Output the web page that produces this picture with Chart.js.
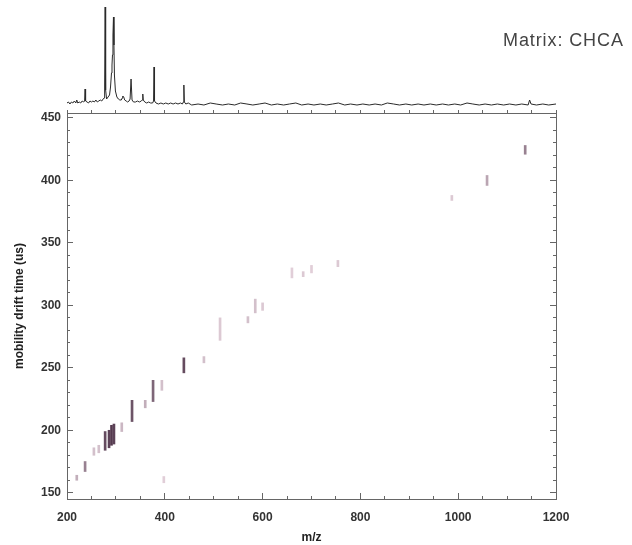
<!DOCTYPE html>
<html>
<head>
<meta charset="utf-8">
<script src="https://cdn.jsdelivr.net/npm/chart.js@4.4.1/dist/chart.umd.min.js"></script>
<style>
html, body { margin: 0; padding: 0; background: #fff; }
#wrap { position: relative; width: 632px; height: 545px; }
#main, #spec { position: absolute; left: 0; top: 0; }
#matrix {
    position: absolute; left: 503px; top: 31px;
    font: 18px "Liberation Sans", Arial, sans-serif;
    color: #444; letter-spacing: 0.9px; white-space: nowrap; line-height: 18px;
}
</style>
</head>
<body>
<div id="wrap">
    <canvas id="main" width="632" height="545"></canvas>
    <canvas id="spec" width="632" height="113"></canvas>
    <div id="matrix">Matrix: CHCA</div>
</div>
<script>
// drift time streaks: m/z, drift time range (us), relative intensity
let streakMz  = [220, 237, 255, 265, 278, 286, 291, 296, 312, 333, 360, 376, 394, 398, 439, 480, 513, 570, 585, 600, 660, 683, 700, 754, 987, 1059, 1137];
let streakLo  = [160, 167, 180, 182, 184, 186, 188, 189, 199, 207, 218, 223, 232, 158, 246, 254, 272, 286, 294, 296, 322, 323, 326, 331, 384, 396, 421];
let streakHi  = [164, 175, 186, 188, 199, 200, 204, 205, 206, 224, 224, 240, 240, 163, 258, 259, 290, 291, 305, 302, 330, 327, 332, 336, 388, 404, 428];
let streakInt = [0.3, 0.55, 0.2, 0.2, 0.85, 0.9, 0.95, 0.9, 0.25, 0.8, 0.3, 0.7, 0.2, 0.12, 0.85, 0.2, 0.15, 0.2, 0.2, 0.15, 0.12, 0.15, 0.12, 0.15, 0.15, 0.35, 0.55];

// summed mass spectrum on top
let specMz = [
    200, 203, 206, 209, 212, 215, 218, 220, 222, 225, 228, 231, 234, 236, 237, 238, 241, 244, 247, 250,
    253, 256, 259, 262, 265, 268, 271, 274, 276, 277, 278, 279, 281, 284, 287, 289, 291, 292, 293, 294,
    295, 296, 297, 299, 302, 305, 308, 311, 313, 314, 316, 318, 321, 324, 327, 329, 331, 333, 336, 340,
    344, 348, 352, 354, 355, 356, 359, 363, 367, 371, 375, 377, 378, 379, 382, 387, 392, 397, 402, 407,
    412, 417, 422, 427, 432, 436, 438, 439, 440, 443, 448,
    455, 468, 480, 493, 505, 518, 530, 543, 555, 568, 580, 593, 605, 618, 630, 643, 655, 668, 680, 693,
    705, 718, 730, 743, 755, 768, 780, 793, 805, 818, 830, 843, 855, 868, 880, 893, 905, 918, 930, 943,
    955, 968, 980, 993, 1005, 1018, 1030, 1043, 1055, 1068, 1080, 1093, 1105, 1118, 1130,
    1143, 1146, 1149, 1160, 1173, 1185, 1200];
let specInt = [
    2, 3, 1, 3, 2, 4, 2, 5, 2, 3, 2, 4, 3, 4, 16, 4, 3, 2, 4, 3,
    4, 3, 5, 3, 4, 5, 4, 6, 7, 20, 98, 15, 6, 8, 10, 18, 32, 40, 50, 70,
    88, 60, 30, 14, 8, 6, 5, 5, 7, 9, 8, 5, 4, 3, 4, 6, 26, 5, 3, 3,
    4, 3, 4, 5, 11, 5, 3, 2, 3, 2, 2, 4, 38, 4, 2, 1, 2, 1, 2, 1,
    2, 1, 2, 1, 2, 1, 3, 20, 3, 1, 2,
    0, 1, 0, 2, 1, 0, 1, 0, 2, 1, 0, 1, 2, 0, 1, 0, 1, 2, 0, 1,
    0, 1, 0, 1, 2, 0, 1, 0, 1, 0, 1, 0, 2, 1, 0, 1, 0, 1, 0, 1,
    0, 1, 0, 1, 0, 2, 1, 0, 1, 0, 1, 0, 1, 0, 1,
    0, 5, 1, 0, 1, 0, 1];

const MZ_MIN = 200, MZ_MAX = 1200;
const DT_MIN = 145, DT_MAX = 454;
const FONT = '"Liberation Sans", Arial, sans-serif';

function streakColor(t) {
    const r = Math.round(245 - 170 * t);
    const g = Math.round(228 - 180 * t);
    const b = Math.round(236 - 166 * t);
    return 'rgb(' + r + ',' + g + ',' + b + ')';
}

// axis that only draws tick marks (and maybe a border), with a fixed box size
function tickAxis(position, lo, hi, step, len, weight, size, border) {
    return {
        type: 'linear',
        position: position,
        min: lo,
        max: hi,
        weight: weight,
        offset: false,
        afterFit: s => {
            if (s.isHorizontal()) s.height = size;
            else s.width = size;
        },
        grid: { drawOnChartArea: false, tickLength: len, tickColor: '#666', offset: false },
        border: { display: border, color: '#666' },
        ticks: { display: false, stepSize: step, autoSkip: false, includeBounds: false }
    };
}

let xMain = tickAxis('bottom', MZ_MIN, MZ_MAX, 200, -6, 1, 46, true);
xMain.ticks = {
    stepSize: 200, autoSkip: false, includeBounds: false, maxRotation: 0,
    padding: 17, color: '#333', font: { family: FONT, size: 12, weight: 'bold' },
    callback: v => String(v)
};
xMain.title = {
    display: true, text: 'm/z', color: '#222',
    font: { family: FONT, size: 12, weight: 'bold' }, padding: { top: 0, bottom: 0 }
};

let yMain = tickAxis('left', DT_MIN, DT_MAX, 50, -6, 1, 67, true);
yMain.ticks = {
    stepSize: 50, autoSkip: false, includeBounds: false,
    padding: 12, color: '#333', font: { family: FONT, size: 12, weight: 'bold' },
    callback: v => String(v)
};
yMain.title = {
    display: true, text: 'mobility drift time (us)', color: '#222',
    font: { family: FONT, size: 12, weight: 'bold' }, padding: { top: 12, bottom: 0 }
};

let streaks = streakMz.map((m, i) => ({ x: m, y: [streakLo[i], streakHi[i]] }));

new Chart(document.getElementById('main'), {
    type: 'bar',
    data: {
        datasets: [{
            data: streaks,
            xAxisID: 'x',
            yAxisID: 'y',
            barThickness: 2,
            backgroundColor: ctx => streakColor(streakInt[ctx.dataIndex] || 0)
        }]
    },
    options: {
        responsive: false,
        animation: false,
        layout: { padding: { top: 113, right: 76, left: 0, bottom: 0 } },
        plugins: { legend: { display: false }, tooltip: { enabled: false } },
        scales: {
            x: xMain,
            xMinor: tickAxis('bottom', MZ_MIN, MZ_MAX, 50, -3, 0, 0, false),
            xTop: tickAxis('top', MZ_MIN, MZ_MAX, 50, 3, 0, 0, true),
            y: yMain,
            yMinor: tickAxis('left', DT_MIN, DT_MAX, 10, -3, 0, 0, false),
            yRight: tickAxis('right', DT_MIN, DT_MAX, 50, -6, 1, 0, true),
            yRightMinor: tickAxis('right', DT_MIN, DT_MAX, 10, -3, 0, 0, false)
        }
    }
});

new Chart(document.getElementById('spec'), {
    type: 'line',
    data: {
        datasets: [{
            data: specMz.map((m, i) => ({ x: m, y: specInt[i] })),
            borderColor: '#2a2a2a',
            borderWidth: 1,
            pointRadius: 0,
            tension: 0,
            fill: false
        }]
    },
    options: {
        responsive: false,
        animation: false,
        layout: { padding: { top: 0, right: 76, left: 67, bottom: 0 } },
        plugins: { legend: { display: false }, tooltip: { enabled: false } },
        scales: {
            x: { type: 'linear', min: MZ_MIN, max: MZ_MAX, display: false },
            y: { type: 'linear', min: -8, max: 105, display: false }
        }
    }
});
</script>
</body>
</html>
